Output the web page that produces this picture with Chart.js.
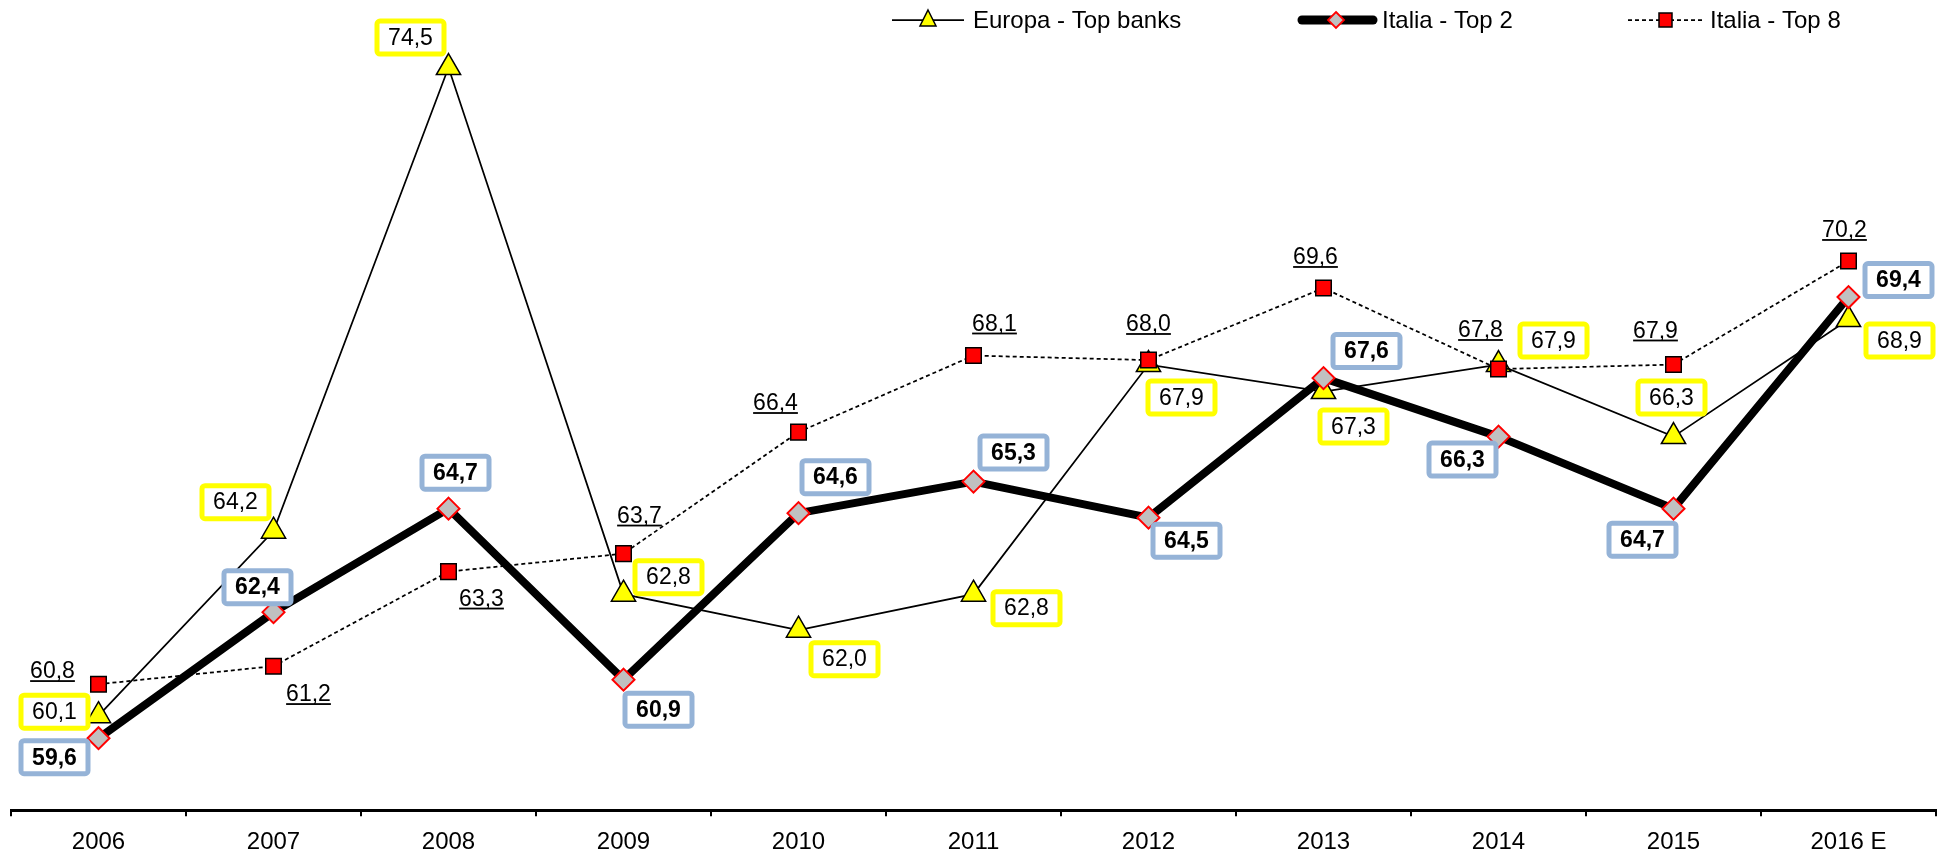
<!DOCTYPE html>
<html>
<head>
<meta charset="utf-8">
<script src="https://cdn.jsdelivr.net/npm/chart.js@4.4.1/dist/chart.umd.min.js"></script>
<style>
  html, body { margin: 0; padding: 0; background: #fff; }
  canvas { display: block; }
</style>
</head>
<body>
<canvas id="chart" width="1950" height="853"></canvas>
<script>
const years = ["2006", "2007", "2008", "2009", "2010", "2011", "2012", "2013", "2014", "2015", "2016 E"];
const europaTopBanks = [60.1, 64.2, 74.5, 62.8, 62.0, 62.8, 67.9, 67.3, 67.9, 66.3, 68.9];
const italiaTop2 = [59.6, 62.4, 64.7, 60.9, 64.6, 65.3, 64.5, 67.6, 66.3, 64.7, 69.4];
const italiaTop8 = [60.8, 61.2, 63.3, 63.7, 66.4, 68.1, 68.0, 69.6, 67.8, 67.9, 70.2];

// where each value label sits, relative to its point (px)
const europaLabelPos = [[-44, -4], [-38, -29], [-38, -30], [45, -17], [46, 29], [53, 14], [33, 33], [30, 35], [55, -24], [-2, -39], [51, 21]];
const top2LabelPos = [[-44, 19], [-16, -25], [7, -36], [35, 30], [37, -36], [40, -29], [38, 23], [43, -27], [-36, 23], [-31, 31], [50, -17]];
const top8LabelPos = [[-46, -14], [35, 27], [33, 26], [16, -39], [-23, -30], [21, -33], [0, -37], [-8, -32], [-18, -40], [-18, -35], [-4, -32]];

const FONT = "'Liberation Sans', Arial, Helvetica, sans-serif";
const fmt = (v) => v.toFixed(1).replace(".", ",");

function boxLabel(ctx, x, y, text, border, bold) {
  const w = 72, h = 38, lw = 5;
  ctx.save();
  ctx.beginPath();
  ctx.roundRect(x - w / 2 + lw / 2, y - h / 2 + lw / 2, w - lw, h - lw, 3);
  ctx.fillStyle = "#fff";
  ctx.fill();
  ctx.lineWidth = lw;
  ctx.strokeStyle = border;
  ctx.stroke();
  ctx.fillStyle = "#000";
  ctx.font = (bold ? "bold " : "") + "23px " + FONT;
  ctx.textAlign = "center";
  ctx.textBaseline = "middle";
  ctx.fillText(text, x, y + 1);
  ctx.restore();
}

function underlineLabel(ctx, x, y, text) {
  ctx.save();
  ctx.fillStyle = "#000";
  ctx.font = "23px " + FONT;
  ctx.textAlign = "center";
  ctx.textBaseline = "alphabetic";
  const base = y + 8;
  ctx.fillText(text, x, base);
  const w = ctx.measureText(text).width;
  ctx.fillRect(x - w / 2, base + 2, w, 1.8);
  ctx.restore();
}

const valueLabels = {
  id: "valueLabels",
  afterDatasetsDraw(chart) {
    const ctx = chart.ctx;
    chart.getDatasetMeta(0).data.forEach((pt, i) => {
      boxLabel(ctx, pt.x + europaLabelPos[i][0], pt.y + europaLabelPos[i][1], fmt(europaTopBanks[i]), "#FFFF00", false);
    });
    chart.getDatasetMeta(1).data.forEach((pt, i) => {
      boxLabel(ctx, pt.x + top2LabelPos[i][0], pt.y + top2LabelPos[i][1], fmt(italiaTop2[i]), "#95B3D7", true);
    });
    chart.getDatasetMeta(2).data.forEach((pt, i) => {
      underlineLabel(ctx, pt.x + top8LabelPos[i][0], pt.y + top8LabelPos[i][1], fmt(italiaTop8[i]));
    });
  }
};

// legend drawn by hand: line + marker + text
const customLegend = {
  id: "customLegend",
  afterDraw(chart) {
    const ctx = chart.ctx;
    const y = 20;
    ctx.save();
    ctx.font = "24px " + FONT;
    ctx.fillStyle = "#000";
    ctx.textBaseline = "middle";

    // Europa
    ctx.strokeStyle = "#000";
    ctx.lineWidth = 1.75;
    ctx.beginPath(); ctx.moveTo(892, y); ctx.lineTo(964, y); ctx.stroke();
    ctx.beginPath();
    ctx.moveTo(928, y - 10); ctx.lineTo(936, y + 6); ctx.lineTo(920, y + 6); ctx.closePath();
    ctx.fillStyle = "#FFFF00"; ctx.fill(); ctx.lineWidth = 1.5; ctx.stroke();
    ctx.fillStyle = "#000";
    ctx.fillText("Europa - Top banks", 973, y + 1);

    // Italia Top 2
    ctx.lineWidth = 9; ctx.lineCap = "round";
    ctx.beginPath(); ctx.moveTo(1302, y); ctx.lineTo(1373, y); ctx.stroke();
    ctx.lineCap = "butt";
    ctx.beginPath();
    ctx.moveTo(1336, y - 8); ctx.lineTo(1344, y); ctx.lineTo(1336, y + 8); ctx.lineTo(1328, y); ctx.closePath();
    ctx.fillStyle = "#C0C0C0"; ctx.fill(); ctx.strokeStyle = "#FF0000"; ctx.lineWidth = 1.8; ctx.stroke();
    ctx.fillStyle = "#000";
    ctx.fillText("Italia - Top 2", 1382, y + 1);

    // Italia Top 8
    ctx.strokeStyle = "#000"; ctx.lineWidth = 1.75; ctx.setLineDash([4, 3]);
    ctx.beginPath(); ctx.moveTo(1628, y); ctx.lineTo(1703, y); ctx.stroke();
    ctx.setLineDash([]);
    ctx.fillStyle = "#FF0000";
    ctx.fillRect(1659, y - 7, 13, 14);
    ctx.lineWidth = 1.5; ctx.strokeRect(1659, y - 7, 13, 14);
    ctx.fillStyle = "#000";
    ctx.fillText("Italia - Top 8", 1710, y + 1);
    ctx.restore();
  }
};

new Chart(document.getElementById("chart").getContext("2d"), {
  type: "line",
  data: {
    labels: years,
    datasets: [
      {
        label: "Europa - Top banks",
        data: europaTopBanks,
        borderColor: "#000",
        borderWidth: 1.75,
        pointStyle: "triangle",
        pointRadius: 14,
        pointBackgroundColor: "#FFFF00",
        pointBorderColor: "#000",
        pointBorderWidth: 1.5,
        tension: 0,
        order: 2,
      },
      {
        label: "Italia - Top 2",
        data: italiaTop2,
        borderColor: "#000",
        borderWidth: 8,
        borderJoinStyle: "round",
        pointStyle: "rectRot",
        pointRadius: 11,
        pointBackgroundColor: "#C0C0C0",
        pointBorderColor: "#FF0000",
        pointBorderWidth: 2,
        tension: 0,
        order: 1,
      },
      {
        label: "Italia - Top 8",
        data: italiaTop8,
        borderColor: "#000",
        borderWidth: 1.75,
        borderDash: [4, 3],
        pointStyle: "rect",
        pointRadius: 11,
        pointBackgroundColor: "#FF0000",
        pointBorderColor: "#000",
        pointBorderWidth: 1.5,
        tension: 0,
        order: 0,
      },
    ],
  },
  options: {
    responsive: false,
    animation: false,
    // negative bottom padding pulls the axis down while keeping the labels low
    layout: { autoPadding: false, padding: { left: 11, right: 14, top: 0, bottom: -16 } },
    plugins: {
      legend: { display: false },
      tooltip: { enabled: false },
    },
    scales: {
      x: {
        offset: true,
        grid: {
          offset: true,
          drawOnChartArea: false,
          drawTicks: true,
          tickLength: 6,
          color: "#000",
          lineWidth: 2,
        },
        border: { display: true, color: "#000", width: 3 },
        ticks: {
          color: "#000",
          font: { family: FONT, size: 24 },
          padding: 12,
          maxRotation: 0,
          autoSkip: false,
        },
      },
      y: {
        display: false,
        min: 58,
        max: 76,
      },
    },
  },
  plugins: [valueLabels, customLegend],
});
</script>
</body>
</html>
